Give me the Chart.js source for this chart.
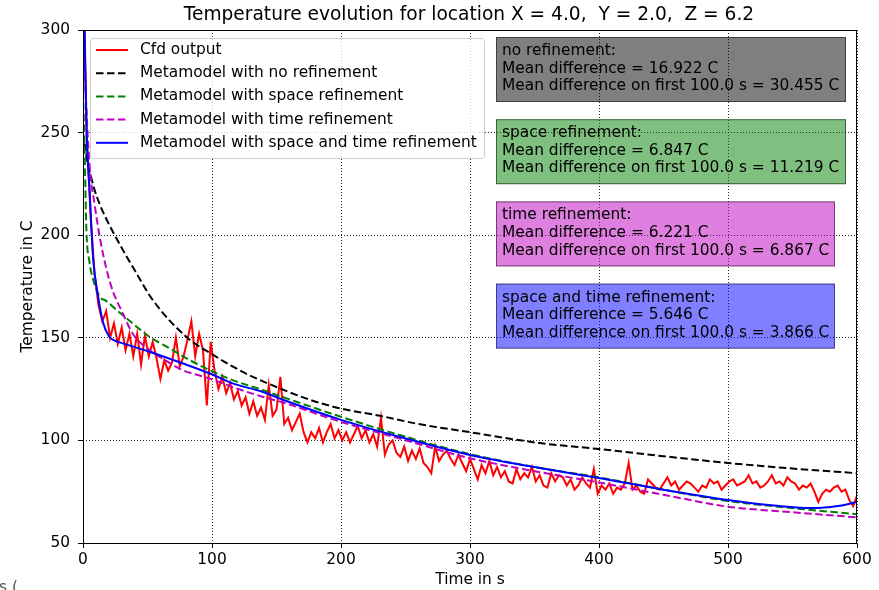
<!DOCTYPE html>
<html><head><meta charset="utf-8">
<script src="https://cdn.jsdelivr.net/npm/chart.js@4.4.0/dist/chart.umd.min.js"></script>
<style>html,body{margin:0;padding:0;background:#fff;}</style>
</head><body>
<canvas id="c" width="879" height="590"></canvas>
<script>
// ---------- data ----------
const chartTitle = "Temperature evolution for location X = 4.0,  Y = 2.0,  Z = 6.2";
const xTitle = "Time in s";
const yTitle = "Temperature in C";
const xTicks = [0, 100, 200, 300, 400, 500, 600];
const yTicks = [50, 100, 150, 200, 250, 300];
const seriesNames = ["Cfd output", "Metamodel with no refinement", "Metamodel with space refinement",
  "Metamodel with time refinement", "Metamodel with space and time refinement"];

// Cfd output, one value every 3 s from t = 0 to t = 600
const cfdStep = 3;
const cfdValues = [
  330,247,208,181,166,158,163,150,157,147,
  155,144,152,141,152,137,151,141,148,140,
  130,139,134,138,150,136,141,149,158,141,
  152,144,117,148,134,125,131,123,128,120,
  124,117,121,113,119,112,116,110,127,112,
  115,131,108,111,105,109,113,104,99,104,
  101,106,99,104,108,101,105,100,104,99,
  103,107,101,105,99,103,97,111,93,98,
  100,94,92,97,90,95,91,96,89,87,
  84,97,90,93,95,91,88,93,89,85,
  91,86,81,88,84,90,83,87,82,85,
  80,79,86,81,84,82,87,80,83,78,
  77,84,80,83,82,78,81,76,78,82,
  79,77,86,74,78,76,79,74,77,76,
  79,89,76,78,75,74,81,79,77,76,
  79,82,78,80,76,78,80,79,77,75,
  78,77,81,79,80,76,78,80,81,78,
  79,80,83,79,80,77,78,80,83,79,
  80,78,82,80,79,76,78,77,79,75,
  70,74,76,75,77,78,75,76,71,68,
  73
];

const noRefTimes = [0,3,6,9,13,18,25,33,40,54,80,100,125,150,175,200,230,260,300,354,400,450,500,550,600];
const noRefValues = [250,237,229,222,215,208,199.5,190.5,183,168.5,150.5,142,133,126,120,115.5,112,108,104,98.7,95.8,92.3,89,86.3,84];

const spaceTimes = [0,1.3,2.6,5,8,13,18,26,38.5,51.5,67,82.5,98,116,139,160,200,250,300,350,400,450,500,550,600];
const spaceValues = [270,240,203,187,178,170,168,163.6,157,150.5,144.9,139.2,134.3,129.4,124.6,120,111.5,101.8,93.3,87,82,76,70.5,67,64];

const timeTimes = [0,2.6,5.2,9,13,18,23,30.8,38.6,51.5,64,77,98,116,139,155,200,245,300,350,400,450,500,550,600];
const timeValues = [305,262,233,215,199,184,173,162,152,144,139,134.3,130.2,126,121.3,118.5,109,101,91.3,85,79.5,73.5,67.7,65,62.5];

const bothTimes = [0,1.3,2.6,5.2,7.8,11.5,15.3,20.4,25,31,51.5,77,98,116,139,155,200,245,300,350,400,450,500,540,566,585,600];
const bothValues = [330,300,254,221,189,171,158,150.5,148.5,147.3,143.2,137.6,132.7,127.8,123.7,119.8,110,101.8,92.9,87,81.7,76,71,68,67,68,70];

const boxTexts = [
  ["no refinement:", "Mean difference = 16.922 C", "Mean difference on first 100.0 s = 30.455 C"],
  ["space refinement:", "Mean difference = 6.847 C", "Mean difference on first 100.0 s = 11.219 C"],
  ["time refinement:", "Mean difference = 6.221 C", "Mean difference on first 100.0 s = 6.867 C"],
  ["space and time refinement:", "Mean difference = 5.646 C", "Mean difference on first 100.0 s = 3.866 C"]
];

// ---------- styles ----------
const FONT = '"DejaVu Sans", sans-serif';
const colors = ['#ff0000', '#000000', '#008000', '#bf00bf', '#0000ff'];
const dashes = [[], [7.5, 3.5], [7.5, 3.5], [7.5, 3.5], []];
const boxFills = ['rgba(0,0,0,0.5)', 'rgba(0,128,0,0.5)', 'rgba(191,0,191,0.5)', 'rgba(0,0,255,0.5)'];
const boxWidths = [350, 350, 339, 339];

const pts = (ts, vs) => ts.map((t, i) => ({x: t, y: vs[i]}));
const cfdPts = cfdValues.map((v, i) => ({x: i * cfdStep, y: v}));
const allSeries = [cfdPts, pts(noRefTimes, noRefValues), pts(spaceTimes, spaceValues),
  pts(timeTimes, timeValues), pts(bothTimes, bothValues)];

const datasets = allSeries.map((d, i) => ({
  label: seriesNames[i],
  data: d,
  borderColor: colors[i],
  borderWidth: 2,
  borderDash: dashes[i],
  pointRadius: 0,
  fill: false,
  tension: 0,
  cubicInterpolationMode: i === 0 ? 'default' : 'monotone',
  order: 4 - i
}));

const overlay = {
  id: 'overlay',
  afterDraw(chart) {
    const ctx = chart.ctx, a = chart.chartArea;
    ctx.save();
    // frame
    ctx.strokeStyle = '#000'; ctx.lineWidth = 1; ctx.setLineDash([]);
    ctx.strokeRect(Math.round(a.left) + 0.5, Math.round(a.top) + 0.5, Math.round(a.right - a.left) - 1, Math.round(a.bottom - a.top));
    // title
    ctx.fillStyle = '#000';
    ctx.font = '18.6px ' + FONT;
    ctx.textAlign = 'center'; ctx.textBaseline = 'middle';
    ctx.fillText(chartTitle, (a.left + a.right) / 2 - 1, 15);

    // legend
    const lx = a.left + 7.5, ly = a.top + 8.5, lw = 394, lh = 120;
    ctx.beginPath();
    ctx.roundRect(lx, ly, lw, lh, 3);
    ctx.fillStyle = 'rgba(255,255,255,0.8)';
    ctx.fill();
    ctx.strokeStyle = '#cccccc'; ctx.lineWidth = 1; ctx.stroke();
    ctx.font = '15.4px ' + FONT;
    ctx.textAlign = 'left'; ctx.textBaseline = 'middle';
    for (let i = 0; i < seriesNames.length; i++) {
      const y = a.top + 20 + i * 23.2;
      ctx.beginPath();
      ctx.strokeStyle = colors[i]; ctx.lineWidth = 2;
      ctx.setLineDash(dashes[i]);
      ctx.moveTo(a.left + 13, y); ctx.lineTo(a.left + 45, y);
      ctx.stroke();
      ctx.setLineDash([]);
      ctx.fillStyle = '#000';
      ctx.fillText(seriesNames[i], a.left + 57, y);
    }

    // annotation boxes
    ctx.font = '15.4px ' + FONT;
    for (let b = 0; b < boxTexts.length; b++) {
      const bx = a.left + 413, by = a.top + 7 + b * 82.2, bw = boxWidths[b], bh = 65;
      ctx.fillStyle = boxFills[b];
      ctx.fillRect(bx, by, bw, bh);
      ctx.strokeStyle = 'rgba(0,0,0,0.5)'; ctx.lineWidth = 1;
      ctx.strokeRect(bx + 0.5, by + 0.5, bw - 1, bh - 1);
      ctx.fillStyle = '#000';
      for (let k = 0; k < 3; k++) {
        ctx.fillText(boxTexts[b][k], bx + 6, by + 14 + k * 17.6);
      }
    }

    // stray clipped label at bottom-left
    ctx.fillStyle = '#555';
    ctx.font = '15.4px ' + FONT;
    ctx.textBaseline = 'alphabetic';
    ctx.fillText('s (', -1, 592);
    ctx.restore();
  }
};

new Chart(document.getElementById('c'), {
  type: 'line',
  data: {datasets},
  plugins: [overlay],
  options: {
    responsive: false,
    animation: false,
    layout: {padding: {top: 30, right: 22, bottom: 0, left: 0}},
    plugins: {legend: {display: false}, tooltip: {enabled: false}, title: {display: false}},
    scales: {
      x: {
        type: 'linear', min: 0, max: 600,
        afterBuildTicks: s => { s.ticks = xTicks.map(v => ({value: v})); },
        afterFit: s => { s.height = 47; },
        grid: {color: 'rgba(0,0,0,0.85)', lineWidth: 1, tickLength: 5, tickColor: '#000', drawTicks: true},
        border: {display: false, dash: [1, 2]},
        ticks: {color: '#000', font: {family: FONT, size: 15.4}, padding: 3, maxRotation: 0},
        title: {display: true, text: xTitle, color: '#000', font: {family: FONT, size: 15.4}, padding: {top: 0, bottom: 1}}
      },
      y: {
        type: 'linear', min: 50, max: 300,
        afterBuildTicks: s => { s.ticks = yTicks.map(v => ({value: v})); },
        afterFit: s => { s.width = 83; },
        grid: {color: 'rgba(0,0,0,0.85)', lineWidth: 1, tickLength: 5, tickColor: '#000', drawTicks: true},
        border: {display: false, dash: [1, 2]},
        ticks: {color: '#000', font: {family: FONT, size: 15.4}, padding: 8},
        title: {display: true, text: yTitle, color: '#000', font: {family: FONT, size: 15.4}, padding: {top: 19, bottom: 0}}
      }
    }
  }
});
</script>
</body></html>
